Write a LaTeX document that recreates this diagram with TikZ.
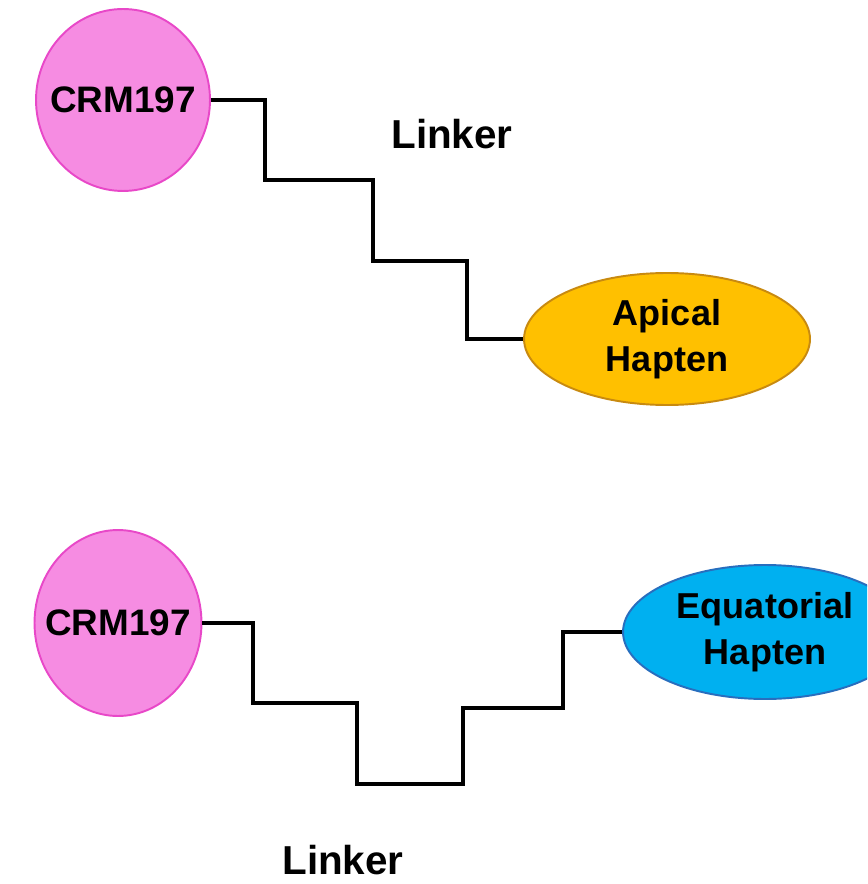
\documentclass[tikz,border=0pt]{standalone}
\usepackage{fontspec}
\setmainfont{Liberation Sans}
\usepackage{xcolor}
\usetikzlibrary{shapes.geometric}
\definecolor{crmcol}  {RGB}{246,140,226}
\definecolor{crmline} {RGB}{232,72,200}
\definecolor{apicol}  {RGB}{255,192,0}
\definecolor{apiline} {RGB}{200,138,16}
\definecolor{equcol}  {RGB}{0,176,240}
\definecolor{equline} {RGB}{40,110,190}

\begin{document}
\begin{tikzpicture}[x=0.02cm,y=-0.02cm,
  txt/.style={font=\fontsize{21}{25}\selectfont\bfseries},
  crm/.style={ellipse,draw=crmline,fill=crmcol,line width=1.1pt,inner sep=0pt,
              label={[txt]center:CRM197}},
  hapt/.style={ellipse,line width=1.1pt,inner sep=0pt,align=center,
               font=\fontsize{20.5}{26}\selectfont\bfseries},
  link/.style={line width=2.2pt,black}
]
\useasboundingbox (0,0) rectangle (867,884);
\clip (0,0) rectangle (867,884);
% apical conjugate
\node[crm,minimum width=3.48cm,minimum height=3.64cm] (crm1) at (123,100) {};
\node[hapt,draw=apiline,fill=apicol,minimum width=5.72cm,minimum height=2.64cm]
  (apical) at (667,339) {Apical\\Hapten};
\draw[link] (crm1.east) -| (265,180) -| (373,261) -- (467,261) |- (apical.west);
\node[txt,font=\fontsize{23}{27}\selectfont\bfseries] (lk1) at (452,134) {Linker};
% equatorial conjugate
\node[crm,minimum width=3.34cm,minimum height=3.72cm] (crm2) at (118,623) {};
\node[hapt,draw=equline,fill=equcol,minimum width=5.68cm,minimum height=2.68cm]
  (equat) at (765,632) {Equatorial\\Hapten};
\draw[link] (crm2.east) -| (253,703) -| (357,784) -| (463,708) -| (563,632) -- (equat.west);
\node[txt,font=\fontsize{23}{27}\selectfont\bfseries] (lk2) at (343,860) {Linker};
\end{tikzpicture}
\end{document}
